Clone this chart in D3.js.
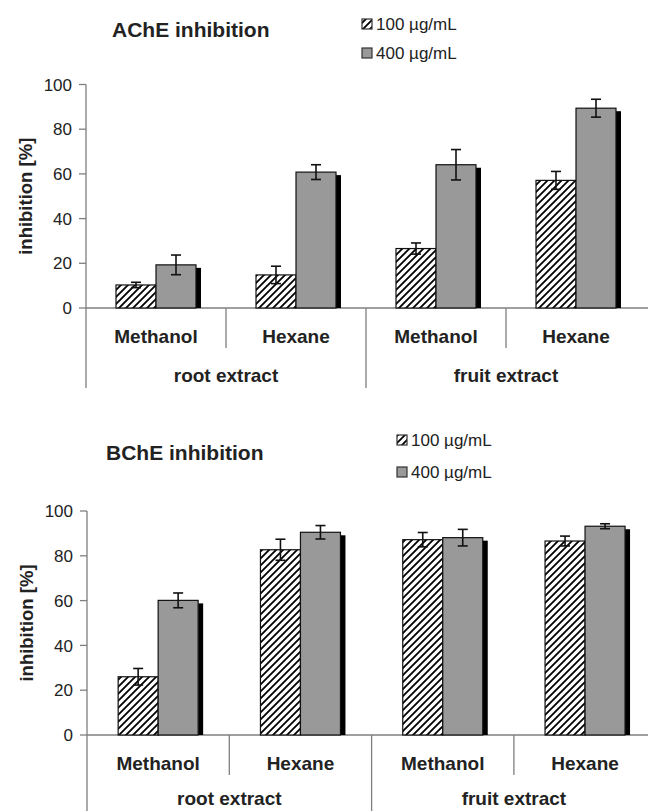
<!DOCTYPE html>
<html>
<head>
<meta charset="utf-8">
<script src="https://cdn.jsdelivr.net/npm/d3@7"></script>
<style>
  html, body { margin: 0; padding: 0; background: #fff; }
  svg { display: block; font-family: 'Liberation Sans', Arial, sans-serif; }
</style>
</head>
<body>
<div id="chart"></div>
<script>
// categories
const groups = ['root extract', 'fruit extract'];
const solvents = ['Methanol', 'Hexane'];
const series = ['100 µg/mL', '400 µg/mL'];
const yTicks = [0, 20, 40, 60, 80, 100];

// AChE inhibition [%] (order: root Methanol, root Hexane, fruit Methanol, fruit Hexane)
const acheMean100 = [10.3, 14.8, 26.6, 57.1];
const acheErr100 = [1.2, 3.9, 2.5, 4.0];
const acheMean400 = [19.3, 60.8, 64.1, 89.4];
const acheErr400 = [4.4, 3.3, 6.8, 4.0];

// BChE inhibition [%]
const bcheMean100 = [26.0, 82.7, 87.2, 86.6];
const bcheErr100 = [3.7, 4.7, 3.2, 2.2];
const bcheMean400 = [60.1, 90.5, 88.1, 93.2];
const bcheErr400 = [3.3, 3.0, 3.7, 1.1];

const width = 648, height = 811;
const grayFill = '#999999';
const axisColor = '#7f7f7f';

const svg = d3.select('#chart').append('svg')
    .attr('width', width)
    .attr('height', height);

const defs = svg.append('defs');
defs.append('pattern')
    .attr('id', 'hatch')
    .attr('patternUnits', 'userSpaceOnUse')
    .attr('width', 7)
    .attr('height', 7)
    .call(p => {
        p.append('rect').attr('width', 7).attr('height', 7).attr('fill', '#fff');
        p.append('path')
            .attr('d', 'M-1,1 l2,-2 M0,7 l7,-7 M6,8 l2,-2')
            .attr('stroke', '#000')
            .attr('stroke-width', 1.8);
    });

function drawPanel(cfg) {
    const cats = [];
    groups.forEach(g => solvents.forEach(s => cats.push(g + '|' + s)));

    const x0 = d3.scaleBand()
        .domain(cats)
        .range([cfg.left, cfg.left + cfg.catWidth * cats.length])
        .padding(0);

    const barW = 40;
    const x1 = d3.scaleBand()
        .domain(series)
        .range([x0.bandwidth() / 2 - barW, x0.bandwidth() / 2 + barW]);

    const y = d3.scaleLinear()
        .domain([0, 100])
        .range([cfg.y0, cfg.y100]);

    const g = svg.append('g');

    // y axis
    g.append('line')
        .attr('x1', cfg.left).attr('x2', cfg.left)
        .attr('y1', y(100)).attr('y2', cfg.y0 + 80)
        .attr('stroke', axisColor).attr('stroke-width', 1.3);

    g.selectAll('.ytick')
        .data(yTicks)
        .enter()
        .append('line')
        .attr('x1', cfg.left - 7).attr('x2', cfg.left)
        .attr('y1', d => y(d)).attr('y2', d => y(d))
        .attr('stroke', axisColor).attr('stroke-width', 1.3);

    g.selectAll('.ylabel')
        .data(yTicks)
        .enter()
        .append('text')
        .attr('x', cfg.left - 14)
        .attr('y', d => y(d))
        .attr('dy', '0.36em')
        .attr('text-anchor', 'end')
        .style('font-size', '17px')
        .style('fill', '#222')
        .text(d => d);

    g.append('text')
        .attr('transform', `translate(${cfg.left - 61},${(y(0) + y(100)) / 2}) rotate(-90)`)
        .attr('text-anchor', 'middle')
        .attr('dy', '0.36em')
        .style('font-size', '18.5px')
        .style('font-weight', 'bold')
        .style('fill', '#222')
        .text('inhibition [%]');

    // x axis line and separators
    g.append('line')
        .attr('x1', cfg.left).attr('x2', width)
        .attr('y1', cfg.y0).attr('y2', cfg.y0)
        .attr('stroke', axisColor).attr('stroke-width', 1.3);

    cats.forEach((c, i) => {
        if (i === 0) return;
        const isGroupEdge = i % solvents.length === 0;
        g.append('line')
            .attr('x1', x0(c)).attr('x2', x0(c))
            .attr('y1', cfg.y0)
            .attr('y2', cfg.y0 + (isGroupEdge ? 80 : 40))
            .attr('stroke', axisColor).attr('stroke-width', 1.3);
    });

    g.selectAll('.solvent-label')
        .data(cats)
        .enter()
        .append('text')
        .attr('x', d => x0(d) + x0.bandwidth() / 2)
        .attr('y', cfg.y0 + 35)
        .attr('text-anchor', 'middle')
        .style('font-size', '19px')
        .style('font-weight', 'bold')
        .style('fill', '#222')
        .text(d => d.split('|')[1]);

    g.selectAll('.group-label')
        .data(groups)
        .enter()
        .append('text')
        .attr('x', d => x0(d + '|' + solvents[0]) + x0.bandwidth() * solvents.length / 2)
        .attr('y', cfg.y0 + cfg.groupLabelDy)
        .attr('text-anchor', 'middle')
        .style('font-size', '19px')
        .style('font-weight', 'bold')
        .style('fill', '#222')
        .text(d => d);

    // bars
    const rows = [];
    cats.forEach((c, i) => {
        rows.push({ cat: c, s: series[0], v: cfg.mean100[i], e: cfg.err100[i] });
        rows.push({ cat: c, s: series[1], v: cfg.mean400[i], e: cfg.err400[i] });
    });

    g.selectAll('.shadow')
        .data(rows)
        .enter()
        .append('rect')
        .attr('x', d => x0(d.cat) + x1(d.s) + x1.bandwidth())
        .attr('y', d => y(d.v) + 3)
        .attr('width', 5)
        .attr('height', d => cfg.y0 - y(d.v) - 3)
        .attr('fill', '#000');

    g.selectAll('.bar')
        .data(rows)
        .enter()
        .append('rect')
        .attr('x', d => x0(d.cat) + x1(d.s))
        .attr('y', d => y(d.v))
        .attr('width', x1.bandwidth())
        .attr('height', d => cfg.y0 - y(d.v))
        .attr('fill', d => d.s === series[0] ? 'url(#hatch)' : grayFill)
        .attr('stroke', '#111')
        .attr('stroke-width', 1.2);

    // error bars
    const eb = g.selectAll('.err')
        .data(rows)
        .enter()
        .append('g')
        .attr('transform', d => `translate(${x0(d.cat) + x1(d.s) + x1.bandwidth() / 2},0)`);
    eb.append('line')
        .attr('y1', d => y(d.v - d.e)).attr('y2', d => y(d.v + d.e))
        .attr('stroke', '#111').attr('stroke-width', 1.6);
    eb.append('line')
        .attr('x1', -5).attr('x2', 5)
        .attr('y1', d => y(d.v + d.e)).attr('y2', d => y(d.v + d.e))
        .attr('stroke', '#111').attr('stroke-width', 1.6);
    eb.append('line')
        .attr('x1', -5).attr('x2', 5)
        .attr('y1', d => y(d.v - d.e)).attr('y2', d => y(d.v - d.e))
        .attr('stroke', '#111').attr('stroke-width', 1.6);

    // title
    g.append('text')
        .attr('x', cfg.titleX)
        .attr('y', cfg.titleY)
        .style('font-size', '21px')
        .style('font-weight', 'bold')
        .style('fill', '#222')
        .text(cfg.title);

    // legend
    series.forEach((s, i) => {
        const cy = cfg.legendY[i];
        g.append('rect')
            .attr('x', cfg.legendX)
            .attr('y', cy - 5)
            .attr('width', 10)
            .attr('height', 10)
            .attr('fill', i === 0 ? 'url(#hatch)' : grayFill)
            .attr('stroke', '#333')
            .attr('stroke-width', 1.2);
        g.append('text')
            .attr('x', cfg.legendX + 14)
            .attr('y', cy)
            .attr('dy', '0.36em')
            .style('font-size', '17px')
            .style('fill', '#222')
            .text(s);
    });
}

drawPanel({
    title: 'AChE inhibition', titleX: 112, titleY: 37,
    legendX: 362, legendY: [24, 53],
    left: 86, catWidth: 140, y0: 308, y100: 84.5, groupLabelDy: 74,
    mean100: acheMean100, err100: acheErr100,
    mean400: acheMean400, err400: acheErr400
});

drawPanel({
    title: 'BChE inhibition', titleX: 106, titleY: 460,
    legendX: 397, legendY: [440, 472],
    left: 87, catWidth: 142.3, y0: 735, y100: 511, groupLabelDy: 70,
    mean100: bcheMean100, err100: bcheErr100,
    mean400: bcheMean400, err400: bcheErr400
});
</script>
</body>
</html>
